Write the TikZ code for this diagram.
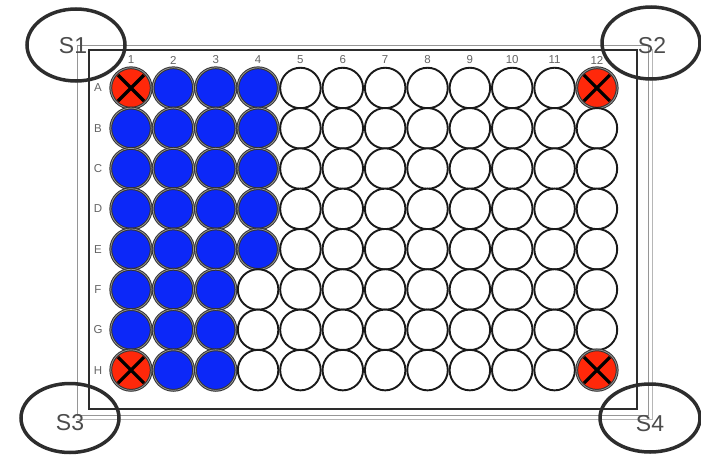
\documentclass[tikz,border=0pt]{standalone}
\usepackage{fontspec}
\setmainfont{Liberation Sans}
\definecolor{wellblue}{RGB}{12,40,248}
\definecolor{wellred}{RGB}{255,40,10}
\definecolor{ringgray}{RGB}{150,150,150}
\definecolor{labgray}{RGB}{100,100,100}
\definecolor{ovalgray}{RGB}{45,45,45}
\tikzset{
  well/.style={circle, minimum size=40.5pt, inner sep=0pt, draw=black!90, line width=1.9pt, fill=white},
  bluewell/.style={well, fill=wellblue, draw=black!80, double=ringgray, double distance=0.8pt, line width=1pt},
  redwell/.style={well, fill=wellred, draw=black!80, double=ringgray, double distance=0.8pt, line width=1pt},
  lab/.style={text=labgray, font=\fontsize{11.5}{12}\selectfont, inner sep=0pt},
  oval/.style={ellipse, draw=ovalgray, line width=3.5pt, minimum width=98pt, minimum height=72pt, inner sep=0pt},
  ovaltext/.style={text=ovalgray!85, font=\fontsize{23}{24}\selectfont, inner sep=0pt},
  cross/.style={line width=3.2pt, black}
}
\usetikzlibrary{shapes.geometric}
\begin{document}
\begin{tikzpicture}[x=1pt,y=-1pt]
\useasboundingbox (0,0) rectangle (701,458);
% plate frames
\draw[ringgray!70, line width=0.8pt] (652,49) -- (652,419) -- (77,419);
\draw[ringgray, line width=0.8pt] (77,45) rectangle (648,415);
\draw[ovalgray, line width=2pt, fill=white] (89,50) rectangle (637,409);
% column labels
\foreach \c in {1,...,12}{
  \node[lab] (col\c) at ({131+(\c-1)*42.36},60) {\c};
}
% row labels
\foreach \r [count=\i] in {A,B,C,D,E,F,G,H}{
  \node[lab] (row\r) at (98,{88+(\i-1)*40.3}) {\r};
}
% wells
\foreach \r [count=\i] in {A,B,C,D,E,F,G,H}{
  \foreach \c in {1,...,12}{
    \pgfmathtruncatemacro{\isred}{((\i==1 || \i==8) && (\c==1 || \c==12)) ? 1 : 0}
    \pgfmathtruncatemacro{\isblue}{(\c<=3 || (\c==4 && \i<=5)) ? 1 : 0}
    \ifnum\isred=1
      \node[redwell] (w\r\c) at ({131+(\c-1)*42.36},{88+(\i-1)*40.3}) {};
      \draw[cross] ([shift={(-13,-13)}]w\r\c.center) -- ([shift={(13,13)}]w\r\c.center);
      \draw[cross] ([shift={(-13,13)}]w\r\c.center) -- ([shift={(13,-13)}]w\r\c.center);
    \else
      \ifnum\isblue=1
        \node[bluewell] (w\r\c) at ({131+(\c-1)*42.36},{88+(\i-1)*40.3}) {};
      \else
        \node[well] (w\r\c) at ({131+(\c-1)*42.36},{88+(\i-1)*40.3}) {};
      \fi
    \fi
  }
}
% corner ovals
\node[oval] (o1) at (76,45) {};
\node[ovaltext] (s1) at (73,46) {S1};
\node[oval] (o2) at (651,43) {};
\node[ovaltext] (s2) at (652,46) {S2};
\node[oval, minimum height=69pt] (o3) at (70,418) {};
\node[ovaltext] (s3) at (70,423) {S3};
\node[oval, minimum height=68pt, minimum width=100pt] (o4) at (650,418) {};
\node[ovaltext] (s4) at (650,424) {S4};
\end{tikzpicture}
\end{document}
